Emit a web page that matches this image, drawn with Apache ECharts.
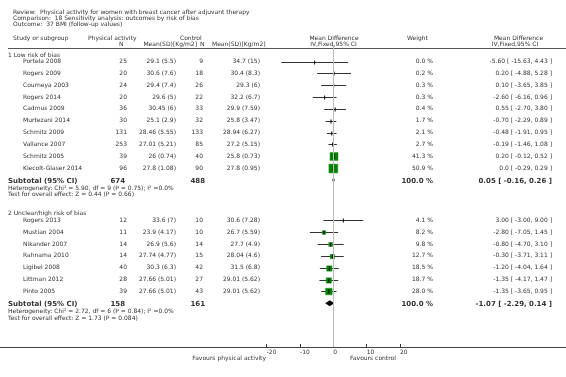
<!DOCTYPE html>
<html>
<head>
<meta charset="utf-8">
<script src="https://cdn.jsdelivr.net/npm/echarts@6/dist/echarts.min.js"></script>
<style>
html, body { margin: 0; padding: 0; background: #fff; }
#main { width: 566px; height: 377px; }
</style>
</head>
<body>
<div id="main"></div>
<script>
// group 1: low risk of bias
var g1Names = ['Portela 2008', 'Rogers 2009', 'Courneya 2003', 'Rogers 2014', 'Cadmus 2009', 'Murtezani 2014', 'Schmitz 2009', 'Vallance 2007', 'Schmitz 2005', 'Kiecolt-Glaser 2014'];
var g1PaN = [25, 20, 24, 20, 36, 30, 131, 253, 39, 96];
var g1PaMean = ['29.1 (5.5)', '30.6 (7.6)', '29.4 (7.4)', '29.6 (5)', '30.45 (6)', '25.1 (2.9)', '28.46 (5.55)', '27.01 (5.21)', '26 (0.74)', '27.8 (1.08)'];
var g1CtN = [9, 18, 26, 22, 33, 32, 133, 85, 40, 90];
var g1CtMean = ['34.7 (15)', '30.4 (8.3)', '29.3 (6)', '32.2 (6.7)', '29.9 (7.59)', '25.8 (3.47)', '28.94 (6.27)', '27.2 (5.15)', '25.8 (0.73)', '27.8 (0.95)'];
var g1Weight = [0.0, 0.2, 0.3, 0.3, 0.4, 1.7, 2.1, 2.7, 41.3, 50.9];
var g1Md = [-5.60, 0.20, 0.10, -2.60, 0.55, -0.70, -0.48, -0.19, 0.20, 0.0];
var g1Lo = [-15.63, -4.88, -3.65, -6.16, -2.70, -2.29, -1.91, -1.46, -0.12, -0.29];
var g1Hi = [4.43, 5.28, 3.85, 0.96, 3.80, 0.89, 0.95, 1.08, 0.52, 0.29];

// group 2: unclear/high risk of bias
var g2Names = ['Rogers 2013', 'Mustian 2004', 'Nikander 2007', 'Rahnama 2010', 'Ligibel 2008', 'Littman 2012', 'Pinto 2005'];
var g2PaN = [12, 11, 14, 14, 40, 28, 39];
var g2PaMean = ['33.6 (7)', '23.9 (4.17)', '26.9 (5.6)', '27.74 (4.77)', '30.3 (6.3)', '27.66 (5.01)', '27.66 (5.01)'];
var g2CtN = [10, 10, 14, 15, 42, 27, 43];
var g2CtMean = ['30.6 (7.28)', '26.7 (5.59)', '27.7 (4.9)', '28.04 (4.6)', '31.5 (6.8)', '29.01 (5.62)', '29.01 (5.62)'];
var g2Weight = [4.1, 8.2, 9.8, 12.7, 18.5, 18.7, 28.0];
var g2Md = [3.00, -2.80, -0.80, -0.30, -1.20, -1.35, -1.35];
var g2Lo = [-3.00, -7.05, -4.70, -3.71, -4.04, -4.17, -3.65];
var g2Hi = [9.00, 1.45, 3.10, 3.11, 1.64, 1.47, 0.95];

// subtotals
var groupTitles = ['1 Low risk of bias', '2 Unclear/high risk of bias'];
var subPaN = [674, 158];
var subCtN = [488, 161];
var subMd = [0.05, -1.07];
var subLo = [-0.16, -2.29];
var subHi = [0.26, 0.14];
var hetText = ['Heterogeneity: Chi\u00b2 = 5.90, df = 9 (P = 0.75); I\u00b2 =0.0%', 'Heterogeneity: Chi\u00b2 = 2.72, df = 6 (P = 0.84); I\u00b2 =0.0%'];
var testText = ['Test for overall effect: Z = 0.44 (P = 0.66)', 'Test for overall effect: Z = 1.73 (P = 0.084)'];

var xTicks = { min: -20, max: 20, interval: 10 };

// layout
var FONT = '6px "DejaVu Sans"';
var BFONT = 'bold 7px "DejaVu Sans"';
var TXT = '#333';
var Y0 = 61.5, RH = 11.85, TOP = 45, BOTTOM = 347;
var X_LEFT = 266.67, X_RIGHT = 400;
var G2_START = 13.4;

function fmt(v) { return v === 0 ? '0.0' : v.toFixed(2); }
function ciText(m, l, h) { return fmt(m) + ' [ ' + fmt(l) + ', ' + fmt(h) + ' ]'; }

var groups = [
  { start: 0, names: g1Names, paN: g1PaN, paMean: g1PaMean, ctN: g1CtN, ctMean: g1CtMean, w: g1Weight, md: g1Md, lo: g1Lo, hi: g1Hi },
  { start: G2_START, names: g2Names, paN: g2PaN, paMean: g2PaMean, ctN: g2CtN, ctMean: g2CtMean, w: g2Weight, md: g2Md, lo: g2Lo, hi: g2Hi }
];

var studyData = [];
var subData = [];
groups.forEach(function (g, gi) {
  g.names.forEach(function (n, i) {
    studyData.push([g.md[i], g.start + i, g.lo[i], g.hi[i], g.w[i]]);
  });
  subData.push([subMd[gi], g.start + g.names.length, subLo[gi], subHi[gi]]);
});

var chart = echarts.init(document.getElementById('main'));

var option = {
  animation: false,
  backgroundColor: '#fff',
  grid: { left: X_LEFT, top: TOP, width: X_RIGHT - X_LEFT, height: BOTTOM - TOP },
  xAxis: {
    type: 'value',
    position: 'bottom',
    min: xTicks.min,
    max: xTicks.max,
    interval: xTicks.interval,
    axisLine: { show: true, onZero: false, lineStyle: { color: '#444', width: 1 } },
    axisTick: { show: true, inside: true, length: 3, lineStyle: { color: '#333' } },
    axisLabel: { fontSize: 6, fontFamily: 'DejaVu Sans', color: TXT, align: 'left', margin: 2 },
    splitLine: { show: false }
  },
  yAxis: {
    type: 'value',
    inverse: true,
    min: (TOP - Y0) / RH,
    max: (BOTTOM - Y0) / RH,
    show: false
  },
  series: [
    {
      type: 'custom',
      data: studyData,
      silent: true,
      renderItem: function (params, api) {
        var c = api.coord([api.value(0), api.value(1)]);
        var l = api.coord([api.value(2), api.value(1)]);
        var h = api.coord([api.value(3), api.value(1)]);
        var y = Math.round(c[1]) + 0.5;
        var s = 1.25 * Math.sqrt(api.value(4));
        var kids = [{
          type: 'line',
          shape: { x1: l[0], y1: y, x2: h[0], y2: y },
          style: { stroke: '#333', lineWidth: 1 }
        }];
        if (s >= 3) {
          kids.push({
            type: 'rect',
            shape: { x: c[0] - s / 2, y: y - s / 2, width: s, height: s },
            style: { fill: '#008000', stroke: '#2e9a2e', lineWidth: 0.5 }
          });
        }
        kids.push({
          type: 'line',
          shape: { x1: c[0], y1: y - 2, x2: c[0], y2: y + 2 },
          style: { stroke: '#000', lineWidth: 1 }
        });
        return { type: 'group', children: kids };
      },
      markLine: {
        silent: true,
        symbol: 'none',
        label: { show: false },
        lineStyle: { color: '#bbb', width: 1, type: 'solid' },
        data: [{ xAxis: 0 }]
      }
    },
    {
      type: 'custom',
      data: subData,
      silent: true,
      renderItem: function (params, api) {
        var c = api.coord([api.value(0), api.value(1)]);
        var l = api.coord([api.value(2), api.value(1)]);
        var h = api.coord([api.value(3), api.value(1)]);
        var y = c[1];
        return {
          type: 'polygon',
          shape: { points: [[l[0] - 0.5, y], [c[0], y - 3], [h[0] + 0.5, y], [c[0], y + 3]] },
          style: { fill: '#000' }
        };
      }
    }
  ]
};
chart.setOption(option);

function py(r) { return chart.convertToPixel({ yAxisIndex: 0 }, r); }
function txt(s, x, y, align, font) {
  return { type: 'text', x: x, y: y, silent: true,
    style: { text: String(s), font: font || FONT, fill: TXT, align: align || 'left', verticalAlign: 'middle' } };
}

var gfx = [];
// title block
gfx.push(txt('Review:  Physical activity for women with breast cancer after adjuvant therapy', 13, 12));
gfx.push(txt('Comparison:  18 Sensitivity analysis: outcomes by risk of bias', 13, 18));
gfx.push(txt('Outcome:  37 BMI (follow-up values)', 13, 24));
// column headers
gfx.push(txt('Study or subgroup', 13, 38.5));
gfx.push(txt('Physical activity', 88, 38));
gfx.push(txt('N', 119, 44));
gfx.push(txt('Mean(SD)[Kg/m2]', 197, 44, 'right'));
gfx.push(txt('Control', 180, 38));
gfx.push(txt('N', 200, 44));
gfx.push(txt('Mean(SD)[Kg/m2]', 212, 44));
gfx.push(txt('Mean Difference', 334, 38, 'center'));
gfx.push(txt('IV,Fixed,95% CI', 333.5, 44, 'center'));
gfx.push(txt('Weight', 407, 38));
gfx.push(txt('Mean Difference', 518.5, 38, 'center'));
gfx.push(txt('IV,Fixed,95% CI', 515, 44, 'center'));
gfx.push({ type: 'line', silent: true, shape: { x1: 8, y1: 48.5, x2: 566, y2: 48.5 }, style: { stroke: '#555', lineWidth: 1 } });

groups.forEach(function (g, gi) {
  gfx.push(txt(groupTitles[gi], 8, py(g.start - 0.55)));
  g.names.forEach(function (n, i) {
    var y = py(g.start + i);
    gfx.push(txt(n, 23, y));
    gfx.push(txt(g.paN[i], 127, y, 'right'));
    gfx.push(txt(g.paMean[i], 176, y, 'right'));
    gfx.push(txt(g.ctN[i], 203, y, 'right'));
    gfx.push(txt(g.ctMean[i], 260, y, 'right'));
    gfx.push(txt(g.w[i].toFixed(1) + ' %', 433, y, 'right'));
    gfx.push(txt(ciText(g.md[i], g.lo[i], g.hi[i]), 552, y, 'right'));
  });
  var sr = g.start + g.names.length;
  var sy = py(sr) + 1;
  gfx.push(txt('Subtotal (95% CI)', 8, sy, 'left', BFONT));
  gfx.push(txt(subPaN[gi], 125, sy, 'right', BFONT));
  gfx.push(txt(subCtN[gi], 205, sy, 'right', BFONT));
  gfx.push(txt('100.0 %', 433, sy, 'right', BFONT));
  gfx.push(txt(ciText(subMd[gi], subLo[gi], subHi[gi]), 552, sy, 'right', BFONT));
  gfx.push(txt(hetText[gi], 8, py(sr + 0.7)));
  gfx.push(txt(testText[gi], 8, py(sr + 1.25)));
});

// axis baseline across the full width
gfx.push({ type: 'line', silent: true, shape: { x1: 0, y1: BOTTOM + 0.5, x2: 566, y2: BOTTOM + 0.5 }, style: { stroke: '#444', lineWidth: 1 } });
gfx.push(txt('Favours physical activity', 266, 358.5, 'right'));
gfx.push(txt('Favours control', 350, 358.5));

chart.setOption({ graphic: gfx });
</script>
</body>
</html>
